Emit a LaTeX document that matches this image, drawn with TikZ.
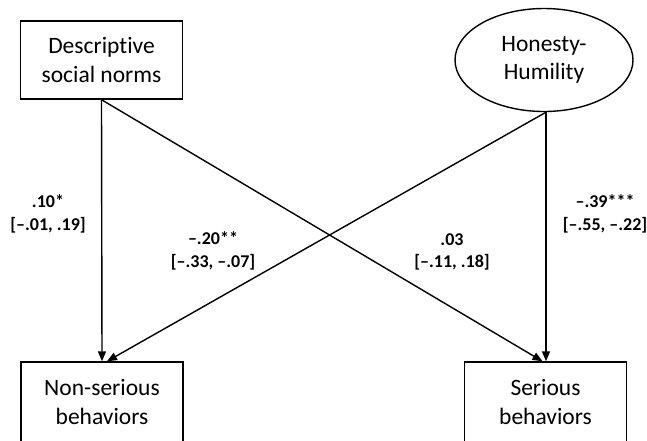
\documentclass[tikz,border=0pt]{standalone}
\usepackage{fontspec}
\setmainfont{Carlito}[Ligatures=NoCommon]
\usetikzlibrary{shapes.geometric,arrows.meta,calc}
\begin{document}
\begin{tikzpicture}[x=1pt,y=-1pt,
  boxfont/.style={font=\fontsize{23.5}{28.5}\selectfont},
  box/.style={draw,line width=1.4pt,rectangle,minimum width=162pt,minimum height=78pt,align=center,boxfont,inner sep=0pt},
  latent/.style={draw,line width=1.4pt,ellipse,minimum width=178pt,minimum height=103pt,align=center,boxfont,inner sep=0pt},
  path/.style={line width=1.4pt,-{Triangle[length=10pt,width=8pt]}},
  coef/.style={align=center,font=\bfseries\fontsize{18}{22.5}\selectfont}]
\useasboundingbox (0,0) rectangle (647,440);
\node[box] (desc) at (101.5,60) {Descriptive\\social norms};
\node[latent] (hh) at (544,60) {Honesty-\\Humility};
\node[box,minimum height=84pt] (nonser) at (102,404) {};
\node[boxfont,align=center] (nonsertext) at (102,402) {Non-serious\\behaviors};
\node[box,minimum height=84pt] (ser) at (545.5,404) {};
\node[boxfont,align=center] (sertext) at (545.5,402) {Serious\\behaviors};
\coordinate (nsin) at ($(nonser.north)+(5,0)$);
\coordinate (sin) at ($(ser.north)+(-3,0)$);
\coordinate (hhout) at ($(hh.south)+(2,0)$);
\coordinate (sin2) at ($(ser.north)+(0.5,0)$);
\draw[path] (desc.south) -- (nonser.north);
\draw[path] (desc.south) -- (sin);
\draw[path] (hhout) -- (sin2);
\draw[path] (hhout) -- (nsin);
\node[coef] (c1) at (48,214) {.10*\\{}[–.01, .19]};
\node[coef] (c2) at (213,251) {–.20**\\{}[–.33, –.07]};
\node[coef] (c3) at (452,252) {.03\\{}[–.11, .18]};
\node[coef] (c4) at (605,214) {–.39***\\{}[–.55, –.22]};
\end{tikzpicture}
\end{document}
